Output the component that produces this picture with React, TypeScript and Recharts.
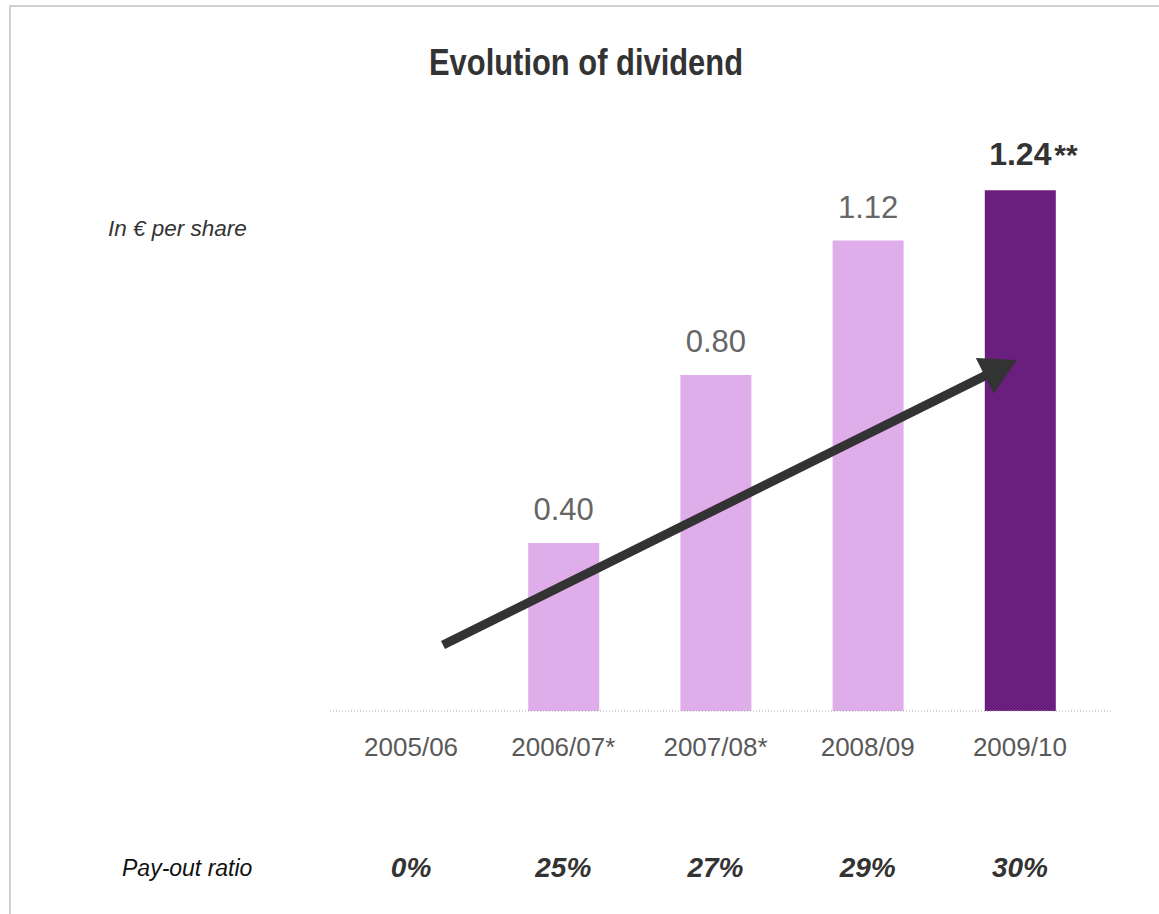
import React from "react";
import { BarChart, Bar, XAxis, YAxis, Cell, LabelList, ReferenceLine } from "recharts";

const categories = ["2005/06", "2006/07*", "2007/08*", "2008/09", "2009/10"];
const dividends = [0, 0.4, 0.8, 1.12, 1.24];
const valueLabels = ["", "0.40", "0.80", "1.12", "1.24"];
const valueNotes = ["", "", "", "", "**"];
const payoutRatios = ["0%", "25%", "27%", "29%", "30%"];
const highlightIndex = 4;
// Trend arrow annotation, in data coordinates (category index, € per share)
const arrowStart = { x: 0.21, y: 0.157 };
const arrowEnd = { x: 3.98, y: 0.836 };

const LIGHT = "#dfaeea";
const DARK = "#6a1e7e";
const SANS = "'Liberation Sans', Arial, sans-serif";

const data = categories.map((c, i) => ({ category: c, value: dividends[i], idx: i }));

const Tick = (props: any) => {
  const { x, y, payload, index } = props;
  return (
    <g>
      <text x={x} y={y + 45} textAnchor="middle" fontFamily={SANS} fontSize={26} fill="#595959">
        {payload.value}
      </text>
      <text
        x={x}
        y={y + 166}
        textAnchor="middle"
        fontFamily={SANS}
        fontSize={28}
        fontWeight="bold"
        fontStyle="italic"
        fill="#333333"
      >
        {payoutRatios[index]}
      </text>
    </g>
  );
};

const ValueLabel = (props: any) => {
  const { x, y, width, value } = props;
  const index = Number(value);
  const label = valueLabels[index];
  if (!label) return null;
  const cx = x + width / 2;
  const hi = index === highlightIndex;
  return (
    <g>
      <text
        x={cx}
        y={y - (hi ? 25 : 23)}
        textAnchor="middle"
        fontFamily={SANS}
        fontSize={hi ? 32 : 31}
        fontWeight={hi ? "bold" : "normal"}
        fill={hi ? "#333333" : "#666666"}
      >
        {label}
      </text>
      {valueNotes[index] ? (
        <text x={cx + 34} y={y - 25} textAnchor="start" fontFamily={SANS} fontSize={30} fontWeight="bold" fill="#333333">
          {valueNotes[index]}
        </text>
      ) : null}
    </g>
  );
};

const ArrowShape = (props: any) => {
  const { x1, y1, x2, y2 } = props;
  const dx = x2 - x1;
  const dy = y2 - y1;
  const len = Math.sqrt(dx * dx + dy * dy) || 1;
  const ux = dx / len;
  const uy = dy / len;
  const headLen = 36;
  const headHalf = 20;
  const bx = x2 - ux * headLen;
  const by = y2 - uy * headLen;
  const px = -uy;
  const py = ux;
  const pts = `${x2},${y2} ${bx + px * headHalf},${by + py * headHalf} ${bx - px * headHalf},${by - py * headHalf}`;
  return (
    <g>
      <line x1={x1} y1={y1} x2={bx + ux * 4} y2={by + uy * 4} stroke="#333333" strokeWidth={9} />
      <polygon points={pts} fill="#333333" />
    </g>
  );
};

export default function App() {
  return (
    <div style={{ position: "absolute", left: 0, top: 0, width: 1159, height: 914, background: "#fff", overflow: "hidden" }}>
      <div
        style={{
          position: "absolute",
          left: 9,
          top: 5,
          width: 1159,
          height: 914,
          borderTop: "2px solid #cfcfcf",
          borderLeft: "2px solid #cfcfcf",
        }}
      />
      <svg width={1159} height={914} style={{ position: "absolute", left: 0, top: 0 }}>
        <text
          transform="translate(586,75) scale(0.835,1)"
          textAnchor="middle"
          fontFamily={SANS}
          fontSize={37}
          fontWeight="bold"
          fill="#333333"
        >
          Evolution of dividend
        </text>
        <text x={108} y={236} fontFamily={SANS} fontSize={22.5} fontStyle="italic" fill="#333333">
          In € per share
        </text>
        <text x={122} y={876} fontFamily={SANS} fontSize={23} fontStyle="italic" fill="#111111">
          Pay-out ratio
        </text>
      </svg>
      <div style={{ position: "absolute", left: 0, top: 0 }}>
        <BarChart width={1159} height={914} data={data} margin={{ top: 123, right: 48, bottom: 143, left: 330 }}>
          <XAxis
            dataKey="category"
            height={60}
            padding={{ left: 5, right: 15 }}
            axisLine={{ stroke: "#aaaaaa", strokeWidth: 1, strokeDasharray: "1 2" }}
            tickLine={false}
            tickSize={0}
            tickMargin={0}
            interval={0}
            tick={<Tick />}
          />
          <XAxis
            xAxisId="arrow"
            type="number"
            hide
            domain={[0, 4]}
            padding={{ left: 81, right: 91 }}
            allowDataOverflow
          />
          <YAxis hide domain={[0, 1.4]} allowDataOverflow />
          <Bar dataKey="value" barSize={71} isAnimationActive={false}>
            {data.map((d, i) => (
              <Cell key={i} fill={i === highlightIndex ? DARK : LIGHT} />
            ))}
            <LabelList dataKey="idx" content={<ValueLabel />} />
          </Bar>
          <ReferenceLine
            xAxisId="arrow"
            segment={[arrowStart, arrowEnd]}
            ifOverflow="visible"
            shape={(p: any) => <ArrowShape {...p} />}
          />
        </BarChart>
      </div>
    </div>
  );
}
